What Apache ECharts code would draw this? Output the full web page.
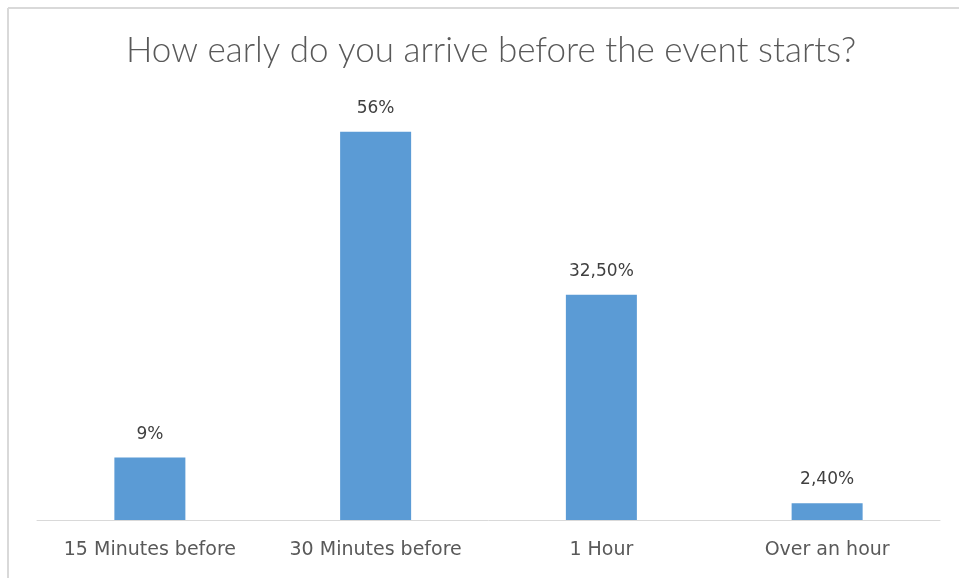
<!DOCTYPE html>
<html>
<head>
<meta charset="utf-8">
<script src="https://cdn.jsdelivr.net/npm/echarts@6/dist/echarts.min.js"></script>
<style>
  html, body { margin: 0; padding: 0; background: #ffffff; }
  #chart { width: 959px; height: 578px; }
</style>
</head>
<body>
<div id="chart"></div>
<script>
// Survey answers: share of respondents per arrival time
const categories = ['15 Minutes before', '30 Minutes before', '1 Hour', 'Over an hour'];
const shares = [9, 56, 32.5, 2.4];
const shareLabels = ['9%', '56%', '32,50%', '2,40%'];

const chart = echarts.init(document.getElementById('chart'), null, { renderer: 'canvas' });

chart.setOption({
  backgroundColor: '#ffffff',
  animation: false,
  title: {
    text: 'How early do you arrive before the event starts?',
    left: 121,
    top: 28,
    textStyle: {
      fontFamily: 'Lato',
      fontWeight: 300,
      fontSize: 35,
      color: '#595959'
    }
  },
  graphic: [
    { type: 'line', shape: { x1: 8, y1: 8, x2: 959, y2: 8 }, style: { stroke: '#d9d9d9', lineWidth: 2 } },
    { type: 'line', shape: { x1: 8, y1: 8, x2: 8, y2: 578 }, style: { stroke: '#d9d9d9', lineWidth: 2 } }
  ],
  grid: { left: 37, right: 19, top: 104, bottom: 58, containLabel: false },
  xAxis: {
    type: 'category',
    data: categories,
    axisLine: { lineStyle: { color: '#d9d9d9', width: 1 } },
    axisTick: { show: false },
    axisLabel: {
      fontFamily: 'DejaVu Sans',
      fontSize: 19,
      color: '#595959',
      margin: 21
    }
  },
  yAxis: {
    type: 'value',
    min: 0,
    max: 60,
    show: false,
    splitLine: { show: false }
  },
  series: [{
    type: 'bar',
    data: shares,
    barWidth: 71,
    itemStyle: { color: '#5b9bd5' },
    label: {
      show: true,
      position: 'top',
      distance: 15,
      fontFamily: 'DejaVu Sans',
      fontSize: 17,
      color: '#404040',
      formatter: p => shareLabels[p.dataIndex]
    }
  }]
});
</script>
</body>
</html>
